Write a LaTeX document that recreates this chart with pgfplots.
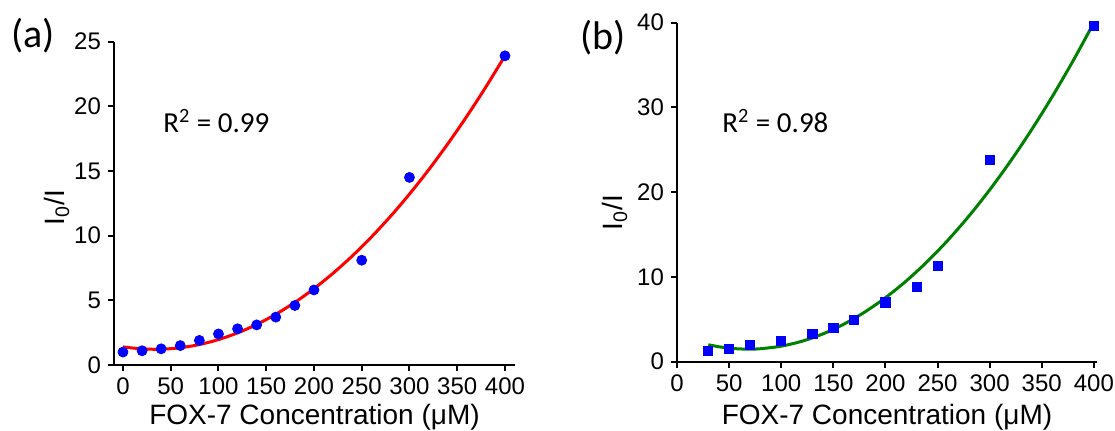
\documentclass[border=0pt]{standalone}
\usepackage{pgfplots}
\pgfplotsset{compat=1.18}
\usepackage{fontspec}
\setmainfont{Liberation Sans}
\newfontfamily\calib{Carlito}
\definecolor{fitgreen}{RGB}{0,128,0}
\definecolor{ptblue}{RGB}{0,0,255}
\definecolor{fitred}{RGB}{255,0,0}

\begin{document}
\begin{tikzpicture}
\path[use as bounding box] (0,0) rectangle (557.5pt,-215.5pt);
\pgfplotsset{
  myax/.style={
    scale only axis, anchor=south west,
    axis x line=bottom, axis y line=left,
    axis line style={-, line width=1pt, black},
    tick align=outside, major tick length=3pt,
    tick style={black, line width=1pt},
    clip=false,
    /pgf/number format/assume math mode=true,
    ticklabel style={font=\fontsize{12}{13}\selectfont},
    label style={font=\fontsize{14}{16}\selectfont},
    xtick={0,50,...,400},
    xlabel={FOX-7 Concentration (μM)},
    ylabel={I\textsubscript{0}/I},
  }
}
% ---------- panel (a)
\begin{axis}[myax, at={(57pt,-182.5pt)}, width=200.5pt, height=161.7pt,
  xmin=-9.4, xmax=410.5, ymin=0, ymax=25, ytick={0,5,...,25},
  xlabel style={at={(axis description cs:0.5,0)}, anchor=base, yshift=-30pt},
  ylabel style={at={(axis description cs:0,0.486)}, anchor=center, yshift=28.5pt}]
\addplot[only marks, mark=*, mark size=2.5pt, mark options={draw=ptblue, fill=ptblue}] coordinates {
 (0,1.0) (20,1.1) (40,1.25) (60,1.5) (80,1.9) (100,2.4) (120,2.8) (140,3.1)
 (160,3.7) (180,4.6) (200,5.8) (250,8.1) (300,14.5) (400,23.9)};
\addplot[fitred, line width=1.5pt, smooth] coordinates {
 (0,1.400) (20,1.243) (40,1.220) (60,1.333) (80,1.580) (100,1.963) (120,2.480)
 (140,3.133) (160,3.920) (180,4.843) (200,5.900) (220,7.093) (240,8.420)
 (260,9.883) (280,11.480) (300,13.213) (320,15.080) (340,17.083) (360,19.220)
 (380,21.493) (400,23.900)};
\end{axis}
% ---------- panel (b)
\begin{axis}[myax, at={(338.5pt,-180.85pt)}, width=210pt, height=169.5pt,
  xmin=0, xmax=403, ymin=0, ymax=40, ytick={0,10,...,40},
  xlabel style={at={(axis description cs:0.5,0)}, anchor=base, yshift=-31.6pt},
  ylabel style={at={(axis description cs:0,0.44)}, anchor=center, yshift=31pt}]
\addplot[only marks, mark=square*, mark size=2.3pt, mark options={draw=ptblue, fill=ptblue}] coordinates {
 (30,1.3) (50,1.5) (70,2.0) (100,2.5) (130,3.3) (150,4.0) (170,4.9) (200,7.0)
 (230,8.8) (250,11.3) (300,23.8) (400,39.6)};
\addplot[fitgreen, line width=1.5pt, smooth] coordinates {
 (30,2.000) (40,1.765) (50,1.602) (60,1.508) (70,1.484) (80,1.530) (100,1.833)
 (120,2.416) (140,3.279) (160,4.423) (180,5.846) (200,7.550) (220,9.534)
 (240,11.798) (260,14.343) (280,17.168) (300,20.273) (320,23.659) (340,27.324)
 (360,31.269) (380,35.495) (400,40.002)};
\end{axis}
% ---------- annotations
\node[anchor=west, inner sep=0pt, font=\calib\fontsize{20}{22}\selectfont] at (5.5pt,-18pt) {(a)};
\node[anchor=west, inner sep=0pt, font=\calib\fontsize{20}{22}\selectfont] at (290pt,-19pt) {(b)};
\node[anchor=base west, inner sep=0pt, font=\calib\fontsize{14.5}{16}\selectfont] at (81.5pt,-66.5pt) {R\textsuperscript{2} = 0.99};
\node[anchor=base west, inner sep=0pt, font=\calib\fontsize{14.5}{16}\selectfont] at (361pt,-66.5pt) {R\textsuperscript{2} = 0.98};
\end{tikzpicture}
\end{document}
